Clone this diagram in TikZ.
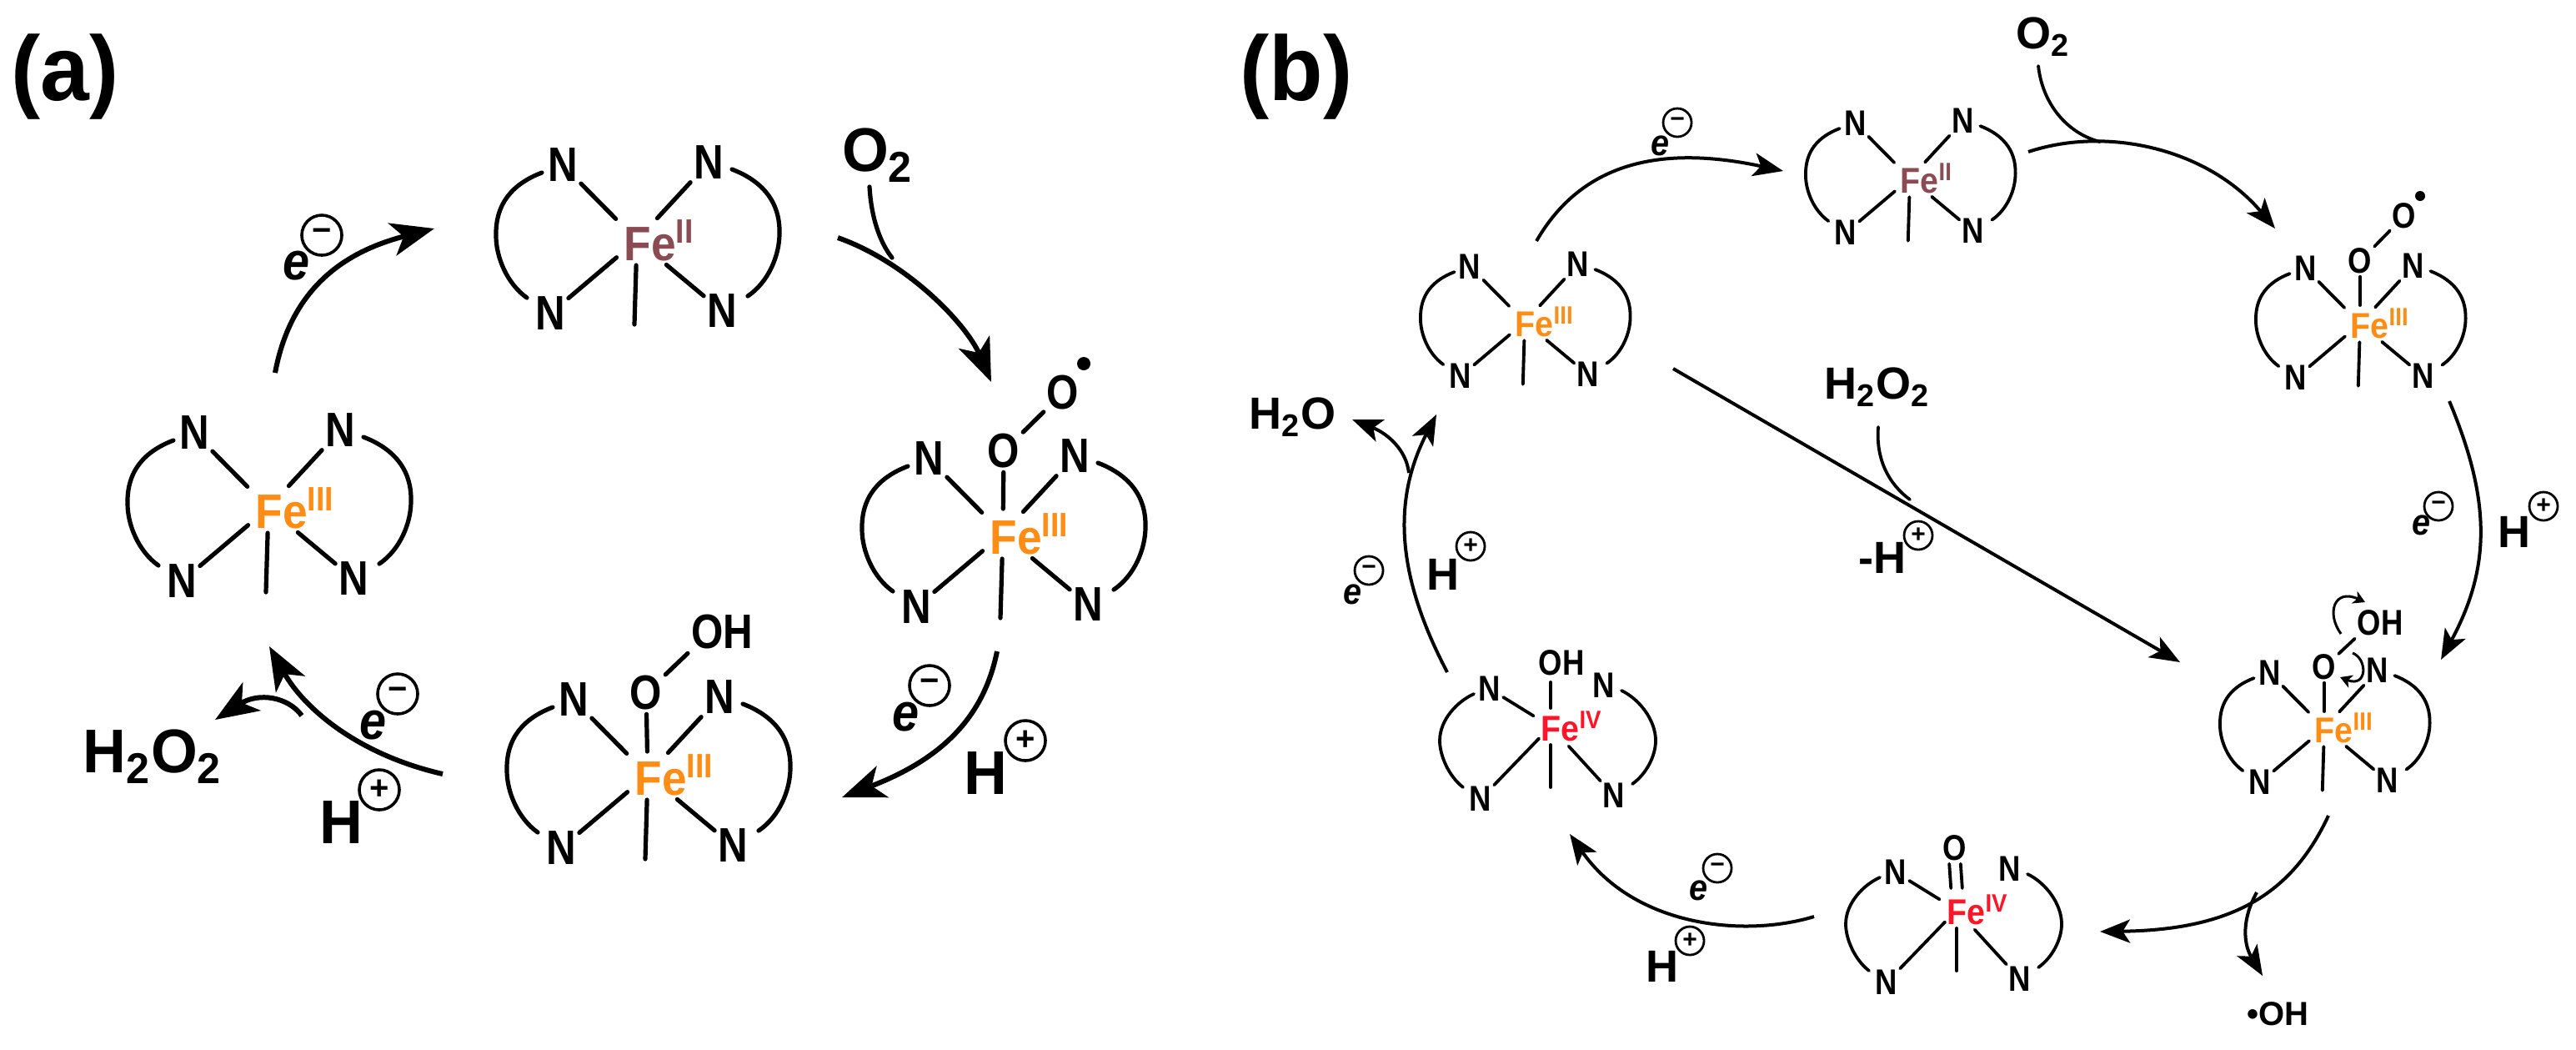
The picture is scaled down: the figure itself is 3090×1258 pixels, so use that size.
\documentclass[tikz,border=0pt]{standalone}
\usepackage{fontspec}
\setmainfont{Liberation Sans}
\usetikzlibrary{arrows.meta}
\definecolor{feii}{HTML}{8B4B52}
\definecolor{feiii}{HTML}{FF8C14}
\definecolor{feiv}{HTML}{FF1428}
\tikzset{
  atom/.style={font=\fontsize{14.5}{14.5}\selectfont\bfseries,inner sep=1pt,xscale=.85},
  bonda/.style={line width=1.3pt,line cap=round},
  bondb/.style={line width=.95pt,line cap=round},
  arra/.style={line width=1.5pt,-{Stealth[length=13pt,width=10pt,inset=3.5pt]}},
  arrb/.style={line width=1pt,-{Stealth[length=9pt,width=7pt,inset=2.2pt]}},
  arrc/.style={line width=.75pt,-{Stealth[length=3.5pt,width=4pt,inset=1pt]}},
  bigl/.style={font=\fontsize{18.5}{18.5}\selectfont\bfseries,inner sep=0pt,xscale=.97},
  midl/.style={font=\fontsize{13.5}{13.5}\selectfont\bfseries,inner sep=0pt},
  ela/.style={font=\fontsize{16}{16}\selectfont\bfseries\itshape,inner sep=0pt,xscale=.9},
  elb/.style={font=\fontsize{11}{11}\selectfont\bfseries\itshape,inner sep=0pt,xscale=.9},
  chga/.style={circle,draw,line width=.9pt,inner sep=0pt,minimum size=12pt,font=\fontsize{10}{10}\selectfont\bfseries},
  chgb/.style={circle,draw,line width=.7pt,inner sep=0pt,minimum size=8.5pt,font=\fontsize{7.5}{7.5}\selectfont\bfseries},
}
% site with four N around the iron
\newcommand{\ironsite}[5]{%
  \begin{scope}[shift={(#2)},scale=#3,bond/.style={line width=#3*1.3pt,line cap=round}]
    \coordinate (#1-c) at (0,0);
    \coordinate (#1-ax) at (-3,101);
    \coordinate (#1-la) at (-114,-81);
    \coordinate (#1-lb) at (-132,69);
    \coordinate (#1-ra) at (114,-85);
    \coordinate (#1-rb) at (133,67);
    \node[atom,scale=#3] (#1-tl) at (-89,-90) {N};
    \node[atom,scale=#3] (#1-tr) at (86,-93) {N};
    \node[atom,scale=#3] (#1-bl) at (-104,88) {N};
    \node[atom,scale=#3] (#1-br) at (102,85) {N};
    \node[atom,scale=#3,xscale=1.08,anchor=west,inner sep=0pt,text=#4] (#1-fe) at (-16,0) {Fe\textsuperscript{#5}};
    \draw[bond,shorten >=#3*9pt] (#1-tl) -- (#1-c);
    \draw[bond,shorten >=#3*9pt] (#1-tr) -- (#1-c);
    \draw[bond,shorten >=#3*8pt] (#1-bl) -- (#1-c);
    \draw[bond,shorten >=#3*11.5pt] (#1-br) -- (#1-c);
    \draw[bond,shorten <=#3*7.5pt] (#1-c) -- (#1-ax);
    \draw[bond] (#1-la) .. controls (-148,-68) and (-170,-45) .. (-169,-5) .. controls (-169,20) and (-156,52) .. (#1-lb);
    \draw[bond] (#1-ra) .. controls (148,-72) and (172,-48) .. (171,-8) .. controls (171,18) and (158,50) .. (#1-rb);
  \end{scope}}
% same for iron(IV), no bond to the upper right N
\newcommand{\ironfour}[2]{%
  \begin{scope}[shift={(#2)}]
    \coordinate (#1-c) at (0,0);
    \coordinate (#1-ax) at (0,73);
    \coordinate (#1-la) at (-92,-39);
    \coordinate (#1-lb) at (-105,73);
    \coordinate (#1-ra) at (85,-43);
    \coordinate (#1-rb) at (98,69);
    \node[atom,scale=.74] (#1-tl) at (-73,-45) {N};
    \node[atom,scale=.74] (#1-tr) at (64,-49) {N};
    \node[atom,scale=.74] (#1-bl) at (-84,87) {N};
    \node[atom,scale=.74] (#1-br) at (76,83) {N};
    \node[atom,scale=.74,xscale=1.08,anchor=west,inner sep=0pt,text=feiv] (#1-fe) at (-12,0) {Fe\textsuperscript{IV}};
    \draw[bondb,shorten >=6pt] (#1-tl) -- (#1-c);
    \draw[bondb,shorten >=5pt] (#1-bl) -- (#1-c);
    \draw[bondb,shorten >=8pt] (#1-br) -- (#1-c);
    \draw[bondb,shorten <=5.5pt] (#1-c) -- (#1-ax);
    \draw[bondb] (#1-la) .. controls (-112,-30) and (-133,-8) .. (-133,17) .. controls (-133,35) and (-122,60) .. (#1-lb);
    \draw[bondb] (#1-ra) .. controls (106,-33) and (126,-8) .. (126,17) .. controls (126,35) and (115,57) .. (#1-rb);
  \end{scope}}
\begin{document}
\begin{tikzpicture}[x=.25pt,y=-.25pt]
  \useasboundingbox (0,0) rectangle (3090,1258);
  % panel a
  \node[font=\fontsize{27.5}{27.5}\selectfont\bfseries,inner sep=0pt,xscale=.96] (pa) at (78,92) {(a)};
  \ironsite{a1}{764,288}{1}{feii}{II}
  \ironsite{a2}{322,609}{1}{feiii}{III}
  \ironsite{a3}{1203,640}{1}{feiii}{III}
  \ironsite{a4}{777,929}{1}{feiii}{III}
  \node[atom] (a3-o) at (1204,541) {O};
  \node[atom] (a3-oo) at (1275,471) {O};
  \node[circle,fill,inner sep=0pt,minimum size=4pt] (a3-dot) at (1300,436) {};
  \draw[bonda,shorten >=7.5pt] (a3-o) -- (a3-c);
  \draw[bonda] (a3-o) -- (a3-oo);
  \node[atom] (a4-o) at (775,831) {O};
  \node[atom] (a4-oh) at (866,758) {OH};
  \draw[bonda,shorten >=7pt] (a4-o) -- (a4-c);
  \draw[bonda] (a4-o) -- (a4-oh.south west);
  % labels a
  \node[bigl] (a-o2) at (1053,186) {O\textsubscript{2}};
  \node[bigl] (a-h2o2) at (183,907) {H\textsubscript{2}O\textsubscript{2}};
  \node[ela] (a-e1) at (356,319) {e};
  \node[chga] (a-c1) at (386,282) {−};
  \node[ela] (a-e2) at (1086,860) {e};
  \node[chga] (a-c2) at (1115,822) {−};
  \node[bigl] (a-h2) at (1182,927) {H};
  \node[chga] (a-p2) at (1230,888) {+};
  \node[ela] (a-e3) at (448,870) {e};
  \node[chga] (a-c3) at (477,832) {−};
  \node[bigl] (a-h3) at (409,986) {H};
  \node[chga] (a-p3) at (455,947) {+};
  % arrows a
  \coordinate (a-s1) at (330,447);
  \coordinate (a-t1) at (521,274);
  \draw[arra] (a-s1) .. controls (350,340) and (420,300) .. (a-t1);
  \coordinate (a-s2) at (1005,285);
  \coordinate (a-t2) at (1189,458);
  \coordinate (a-m2) at (1070,309);
  \draw[arra] (a-s2) .. controls (1090,315) and (1160,390) .. (a-t2);
  \draw[bonda] (1043,224) .. controls (1045,260) and (1055,290) .. (a-m2);
  \coordinate (a-s3) at (1196,781);
  \coordinate (a-t3) at (1010,956);
  \draw[arra] (a-s3) .. controls (1180,860) and (1130,910) .. (a-t3);
  \coordinate (a-s4) at (531,928);
  \coordinate (a-t4) at (323,775);
  \coordinate (a-m4) at (362,858);
  \coordinate (a-t5) at (258,863);
  \draw[arra] (a-s4) .. controls (430,905) and (365,850) .. (a-t4);
  \draw[arra] (a-m4) .. controls (345,835) and (310,830) .. (a-t5);
  % panel b
  \node[font=\fontsize{27.5}{27.5}\selectfont\bfseries,inner sep=0pt,xscale=.96] (pb) at (1555,92) {(b)};
  \ironsite{b1}{1829,386}{.74}{feiii}{III}
  \ironsite{b2}{2291,214}{.74}{feii}{II}
  \ironsite{b3}{2831,388}{.74}{feiii}{III}
  \ironsite{b4}{2788,873}{.74}{feiii}{III}
  \ironfour{b5}{2347,1091}
  \ironfour{b6}{1860,871}
  \node[atom,scale=.74] (b3-o) at (2831,313) {O};
  \node[atom,scale=.74] (b3-oo) at (2884,259) {O};
  \node[circle,fill,inner sep=0pt,minimum size=3pt] (b3-dot) at (2903,235) {};
  \draw[bondb,shorten >=5.5pt] (b3-o) -- (b3-c);
  \draw[bondb] (b3-o) -- (b3-oo);
  \node[atom,scale=.74] (b4-o) at (2788,800) {O};
  \node[atom,scale=.74] (b4-oh) at (2855,747) {OH};
  \draw[bondb,shorten >=5pt] (b4-o) -- (b4-c);
  \draw[bondb] (b4-o) -- (b4-oh.south west);
  \coordinate (b4-a1) at (2808,760);
  \coordinate (b4-a2) at (2837,722);
  \coordinate (b4-a3) at (2822,783);
  \coordinate (b4-a4) at (2807,812);
  \draw[arrc] (b4-a1) .. controls (2790,735) and (2800,705) .. (b4-a2);
  \draw[arrc] (b4-a3) .. controls (2840,790) and (2840,825) .. (b4-a4);
  \node[atom,scale=.74] (b5-o) at (2345,1017) {O};
  \draw[bondb] ([xshift=-1.7pt]b5-o.south) -- ([xshift=-1.7pt,yshift=6.5pt]b5-c);
  \draw[bondb] ([xshift=1.7pt]b5-o.south) -- ([xshift=1.7pt,yshift=6.5pt]b5-c);
  \node[atom,scale=.74] (b6-oh) at (1873,795) {OH};
  \coordinate (b6-up) at (1860,818);
  \draw[bondb,shorten >=5.5pt] (b6-up) -- (b6-c);
  % labels b
  \node[midl] (b-o2) at (2451,44) {O\textsubscript{2}};
  \node[midl] (b-h2o2) at (2252,464) {H\textsubscript{2}O\textsubscript{2}};
  \node[midl] (b-h2o) at (1550,500) {H\textsubscript{2}O};
  \node[font=\fontsize{10}{10}\selectfont\bfseries,inner sep=0pt] (b-oh) at (2732,1216) {•OH};
  \node[elb] (b-e1) at (1991,175) {e};
  \node[chgb] (b-c1) at (2012,147) {−};
  \node[elb] (b-e2) at (2904,630) {e};
  \node[chgb] (b-c2) at (2925,607) {−};
  \node[midl] (b-h2) at (3016,638) {H};
  \node[chgb] (b-p2) at (3051,607) {+};
  \node[elb] (b-e3) at (2037,1068) {e};
  \node[chgb] (b-c3) at (2060,1041) {−};
  \node[midl] (b-h3) at (1994,1159) {H};
  \node[chgb] (b-p3) at (2027,1128) {+};
  \node[elb] (b-e4) at (1622,713) {e};
  \node[chgb] (b-c4) at (1642,684) {−};
  \node[midl] (b-h4) at (1731,689) {H};
  \node[chgb] (b-p4) at (1764,655) {+};
  \node[midl] (b-h5) at (2258,669) {-H};
  \node[chgb] (b-p5) at (2301,642) {+};
  % arrows b
  \coordinate (b-s1) at (1843,289);
  \coordinate (b-t1) at (2139,205);
  \draw[arrb] (b-s1) .. controls (1900,190) and (2000,175) .. (b-t1);
  \coordinate (b-s2) at (2433,182);
  \coordinate (b-t2) at (2729,274);
  \coordinate (b-m2) at (2519,170);
  \draw[arrb] (b-s2) .. controls (2530,150) and (2650,180) .. (b-t2);
  \draw[bondb] (2445,79) .. controls (2450,125) and (2480,160) .. (b-m2);
  \coordinate (b-s3) at (2938,481);
  \coordinate (b-t3) at (2928,791);
  \draw[arrb] (b-s3) .. controls (2988,600) and (2988,680) .. (b-t3);
  \coordinate (b-s4) at (2793,978);
  \coordinate (b-t4) at (2519,1117);
  \coordinate (b-m4) at (2707,1070);
  \coordinate (b-t5) at (2714,1170);
  \draw[arrb] (b-s4) .. controls (2750,1070) and (2680,1115) .. (b-t4);
  \draw[arrb] (b-m4) .. controls (2690,1100) and (2690,1130) .. (b-t5);
  \coordinate (b-s6) at (2176,1099);
  \coordinate (b-t6) at (1883,1000);
  \draw[arrb] (b-s6) .. controls (2090,1125) and (1960,1110) .. (b-t6);
  \coordinate (b-s7) at (1736,806);
  \coordinate (b-t7) at (1723,497);
  \coordinate (b-m7) at (1690,567);
  \coordinate (b-t8) at (1622,503);
  \draw[arrb] (b-s7) .. controls (1675,690) and (1670,600) .. (b-t7);
  \draw[arrb] (b-m7) .. controls (1687,540) and (1665,520) .. (b-t8);
  \coordinate (b-s9) at (2007,442);
  \coordinate (b-t9) at (2615,794);
  \coordinate (b-m9) at (2291,599);
  \draw[arrb] (b-s9) -- (b-t9);
  \draw[bondb] (2253,512) .. controls (2250,550) and (2265,580) .. (b-m9);
\end{tikzpicture}
\end{document}
